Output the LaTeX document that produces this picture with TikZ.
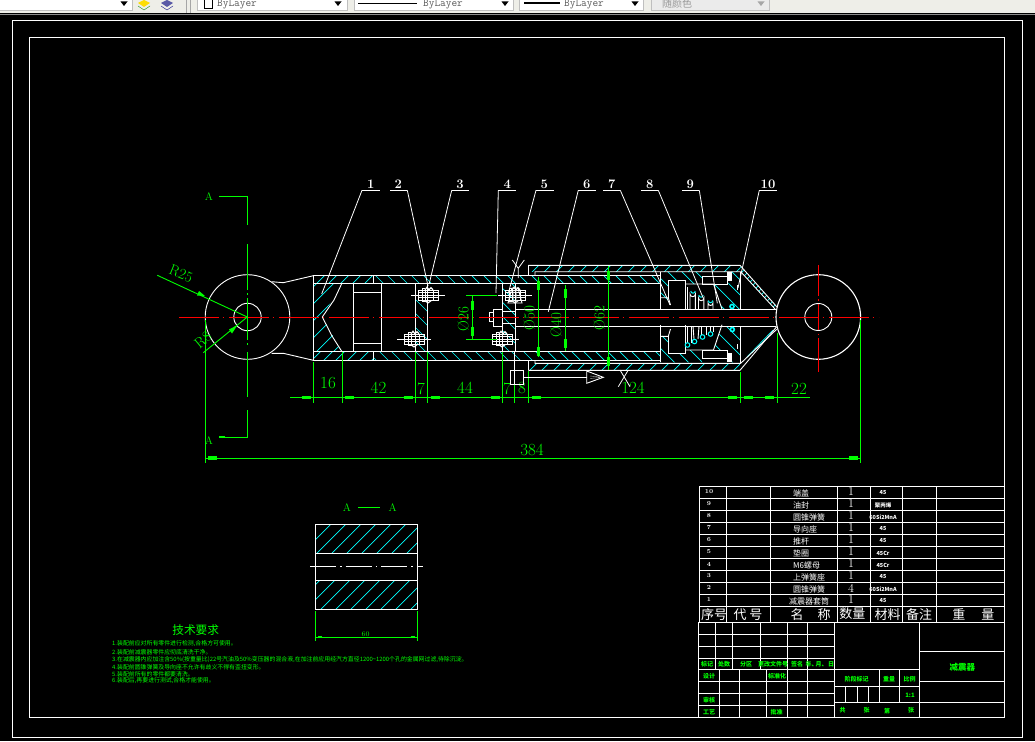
\documentclass[tikz,border=0pt]{standalone}
\usepackage{fontspec}
\newfontfamily\cjk{Noto Sans CJK SC}
\usetikzlibrary{calc}

\definecolor{cadgreen}{RGB}{0,255,0}
\definecolor{cadcyan}{RGB}{0,255,255}
\definecolor{cadred}{RGB}{255,0,0}
\definecolor{barfill}{RGB}{238,238,232}

\newcommand{\hatchup}[2][12]{\begin{scope}\clip #2;
  \pgfmathsetmacro{\hnext}{-200+#1}
  \foreach \h in {-200,\hnext,...,1100}{\draw[hatchline] (\h,800) -- ({\h+800},0);}
  \end{scope}}
\newcommand{\hatchdown}[2][12]{\begin{scope}\clip #2;
  \pgfmathsetmacro{\hnext}{-500+#1}
  \foreach \h in {-500,\hnext,...,800}{\draw[hatchline] (\h,0) -- ({\h+800},800);}
  \end{scope}}

\begin{document}
\begin{tikzpicture}
      [x=1pt,y=-1pt,
        partline/.style={draw=white, line width=0.9pt},
        hatchline/.style={draw=cadcyan, line width=0.7pt},
        centerline/.style={draw=cadred, line width=0.9pt, dash pattern=on 40pt off 3.5pt on 1.5pt off 5pt},
        whitecenter/.style={draw=white, line width=0.9pt, dash pattern=on 26pt off 4pt on 1.5pt off 4pt},
        dimline/.style={draw=cadgreen, line width=0.9pt},
        dimblock/.style={draw=cadgreen, line width=3.4pt},
        leaderline/.style={draw=white, line width=0.8pt},
        partno/.style={text=white, font=\bfseries\fontsize{13}{13}\selectfont, inner sep=0pt},
        dimtext/.style={text=cadgreen, font=\fontsize{17}{17}\selectfont, inner sep=0pt},
        greentext/.style={text=cadgreen, font=\cjk\bfseries\fontsize{6.5}{7}\selectfont, inner sep=0pt},
        tabletext/.style={text=white, font=\cjk\fontsize{8}{8}\selectfont, inner sep=0pt},
        headtext/.style={text=white, font=\cjk\fontsize{13}{13}\selectfont, inner sep=0pt},
        techtext/.style={text=cadgreen, font=\cjk\fontsize{5.9}{6}\selectfont, inner sep=0pt, anchor=west},
        bartext/.style={text=black!65, font=\ttfamily\fontsize{11}{11}\selectfont, inner sep=0pt},
        barbox/.style={fill=white, draw=black!25, line width=0.5pt},
        boltpic/.pic={
          \draw[partline] (-17,0) -- (17,0);
          \draw[partline] (-10,-5) rectangle (10,5);
          \draw[partline] (-6,-6.5) -- (-6,6.5) (-3,-6.5) -- (-3,6.5) (5,-5) -- (5,5) (-6,-6.5) -- (-3,-6.5) (-6,6.5) -- (-3,6.5);
          \draw[partline, line width=1.2pt] (-3,-5.5) -- (-1,-8) -- (1,-5.5) -- (3,-7.5) -- (5,-5.5) (-3,5.5) -- (0,7.5) -- (3,5.5);
          \draw[partline] (-9,-2.5) -- (10,-2.5) (-9,2.5) -- (10,2.5);
        }]
      % page and toolbar
      \useasboundingbox (0,0) rectangle (1035,741);
      \fill[black] (0,0) rectangle (1035,741);
      \fill[barfill] (0,0) rectangle (1035,13.5);
      \draw[black!45, line width=0.8pt] (0,14) -- (1035,14);
      \fill[barbox] (-2,-2) rectangle (132,10.5);
      \fill[barbox] (197,-2) rectangle (347,10.5);
      \fill[barbox] (354,-2) rectangle (513,10.5);
      \fill[barbox] (519,-2) rectangle (643,10.5);
      \fill[black!8, draw=black!25] (651,-2) rectangle (769,10.5);
      \draw[black!35] (186,0) -- (186,13) (190,0) -- (190,13);
      \foreach \ax in {124,338,505,635}{
        \fill[black] (\ax-3.5,1.5) -- (\ax+3.5,1.5) -- (\ax,6) -- cycle;
      }
      \fill[black!35] (761-3.5,1.5) -- (761+3.5,1.5) -- (761,6) -- cycle;
      \fill[yellow!80!orange] (138,3) -- (144,0) -- (150,3) -- (144,7) -- cycle;
      \draw[green!50!black] (138,6) -- (144,10) -- (150,6);
      \fill[blue!30!gray] (161,3) -- (167,0) -- (173,3) -- (167,7) -- cycle;
      \draw[blue!50!black] (161,6) -- (167,10) -- (173,6);
      \draw[black, line width=0.6pt] (204,-2) rectangle (212,8);
      \node[bartext] (layerA) at (237,4) {ByLayer};
      \draw[black, line width=0.8pt] (358,3) -- (417,3);
      \node[bartext] (layerB) at (443,4) {ByLayer};
      \draw[black, line width=2.4pt] (524,3) -- (560,3);
      \node[bartext] (layerC) at (584,4) {ByLayer};
      \node[bartext, font=\cjk\fontsize{10}{10}\selectfont, text=black!40] (colour) at (677,3.5) {随颜色};

      % frames
      \draw[partline] (12.5,20.5) rectangle (1022,737.5);
      \draw[partline] (29,37.5) rectangle (1004.5,717.5);

      % hatching of the tubes
      \hatchup{(313.3,275.3) rectangle (373,283.7)}
      \hatchup{(313.3,351.3) rectangle (373,360.3)}
      \hatchdown{(373,275.3) rectangle (660.3,283.7)}
      \hatchdown{(373,351.3) rectangle (660.3,360.3)}
      \hatchup{(528.3,265.3) rectangle (740,271.7)}
      \hatchup{(528.3,363.3) rectangle (740,370.3)}
      \hatchup[17]{(313.3,283.7) -- (341.7,283.7) -- (322.3,317) -- (341.7,351.3) -- (313.3,351.3) -- cycle}
      \hatchdown[14]{(415.7,298) rectangle (427.3,351.3)}
      \hatchdown[14]{(502.7,283.7) -- (515,283.7) -- (515,351.3) -- (502.7,351.3) -- cycle}
      \hatchdown[14]{(660.3,271.7) -- (702.3,271.7) -- (702.3,284) -- (685,284) -- (685,280.7) -- (668.3,280.7) -- (668.3,305) -- (660.3,296) -- cycle}
      \hatchdown[14]{(660.3,362.3) -- (702.3,362.3) -- (702.3,350) -- (685,350) -- (685,353.3) -- (668.3,353.3) -- (668.3,329) -- (660.3,338) -- cycle}
      \hatchdown[15]{(713.5,284) -- (728.3,284) -- (728.3,271.7) -- (740.7,271.7) -- (740.7,309.3) -- (722,309.3) -- cycle}
      \hatchdown[15]{(713.5,350) -- (728.3,350) -- (728.3,362.3) -- (740.7,362.3) -- (740.7,326.7) -- (722,326.7) -- cycle}
      \hatchup[6]{(740,265.3) -- (776.7,306.7) -- (775,309) -- (740.7,271.7) -- cycle}
      \draw[hatchline] (747,357) -- (773,330);

      % left eye and cylinder
      \draw[partline] (247.5,317) circle (42.3);
      \draw[partline] (247.5,317) circle (13.7);
      \draw[partline] (271.7,281.7) -- (283.3,282.7) -- (313.3,275.7);
      \draw[partline] (271.7,353.3) -- (283.3,353.3) -- (313.3,360.3);
      \draw[partline] (313.3,275.3) rectangle (660.3,283.7);
      \draw[partline] (313.3,351.3) rectangle (660.3,360.3);
      \draw[partline] (313.3,283.7) -- (313.3,351.3);
      \draw[partline] (341.7,283.7) -- (334,300) -- (322.3,317) -- (332,336) -- (341.7,351.3);
      \draw[partline] (353.3,283.7) rectangle (381.3,351.3);
      \draw[partline] (353.3,292.3) -- (381.3,292.3) (353.3,343.3) -- (381.3,343.3);
      \draw[partline] (373,275.3) -- (373,283.7) (373,351.3) -- (373,360.3);
      \draw[partline] (415.7,283.7) -- (415.7,351.3) (427.3,283.7) -- (427.3,351.3);
      \draw[partline] (502.7,283.7) -- (502.7,351.3) (515,283.7) -- (515,351.3);

      % bolts and nuts
      \pic at (428,295.3) {boltpic};
      \pic at (414,339.3) {boltpic};
      \pic at (515,295.3) {boltpic};
      \pic at (502,339.3) {boltpic};
      \draw[partline] (489,312.5) rectangle (493.5,321.5) (493.5,309.3) rectangle (502,326.3) (502,311.7) rectangle (515,323);
      \draw[leaderline] (512.3,260) -- (518.3,268.3) -- (524.3,260) (518.3,268.3) -- (518.3,278);
      \draw[partline] (512,288) -- (508,303) -- (522,303) -- (518,288) -- cycle;
      \draw[black!30!white] (514,290) -- (513,302) (516,290) -- (517,302);

      % outer tube, rod and end cap
      \draw[partline] (528.3,265.3) -- (740,265.3) -- (776.7,306.7);
      \draw[partline] (528.3,370.3) -- (740,370.3) -- (776.7,326.7);
      \draw[partline] (528.3,265.3) -- (528.3,275.3) (528.3,360.3) -- (528.3,370.3);
      \draw[partline] (535,275.3) -- (535,271.7) -- (740.7,271.7) -- (775,309);
      \draw[partline] (535,360.3) -- (535,363.3) -- (740.7,363.3) -- (776.7,329.3);
      \draw[partline] (740.7,271.7) -- (740.7,309.3) (740.7,326.7) -- (740.7,363.3);
      \draw[partline] (515,309.3) -- (776,309.3) (515,326.3) -- (776,326.3);
      \foreach \m/\s in {0/1,634/-1}{
        \begin{scope}[shift={(0,\m)}, yscale=\s]
          \draw[partline] (660.3,271.7) -- (660.3,309.3);
          \draw[partline] (660.3,297.7) -- (668.3,297.7) -- (670.5,305);
          \draw[partline] (668.3,280.7) -- (685,280.7) -- (685,309.3);
          \draw[partline] (668.3,280.7) -- (668.3,297.7);
          \draw[partline] (685,284) -- (713.5,284) -- (722,309.3);
          \draw[partline] (702.3,276) rectangle (727.3,284);
          \fill[white] (727.3,271.7) rectangle (731.7,280.7);
          \draw[partline] (737,285) -- (737,290);
        \end{scope}
      }
      % spring coils
      \draw[partline] (685,287) -- (685,309) (687,287) -- (687,309);
      \draw[partline] (690,309.3) -- (690,294) arc (180:0:2.7) -- (695.4,309.3);
      \draw[partline] (698.5,309.3) -- (698.5,298) arc (180:0:2.7) -- (703.9,309.3);
      \draw[partline] (708,309.3) -- (708,303) arc (180:0:2.5) -- (713,309.3);
      \draw[partline] (687,326.3) -- (687,343) (691,326.3) -- (691,343);
      \draw[partline] (693,326.3) -- (694,339) (699,326.3) -- (698,339);
      \draw[partline] (701,326.3) -- (701,335) (706,326.3) -- (706,335);
      \draw[partline] (710,326.3) -- (710,332) (713,326.3) -- (713,332);
      \foreach \cx/\cy in {687.5/345,694.5/341.5,702.5/337,710.5/334}{
        \draw[hatchline, line width=1pt] (\cx,\cy) circle (2.3);
      }
      \foreach \cx/\cy in {693/291,701/295,710.5/300.5}{
        \draw[hatchline, line width=1pt] (\cx-2.2,\cy) arc (180:0:2.2);
      }
      \draw[hatchline, line width=1.6pt] (732,306.5) circle (2) (732.3,329.5) circle (2);

      % right eye
      \fill[black] (818.3,317) circle (42.3);
      \draw[partline, line width=1.1pt] (818.3,317) circle (42.3);
      \draw[partline] (818.3,317) circle (13.5);

      % center lines
      \draw[centerline] (179,317) -- (879,317);
      \draw[draw=cadred, line width=0.9pt] (818.3,265) -- (818.3,296) (818.3,299) -- (818.3,300.5) (818.3,304) -- (818.3,330) (818.3,333.5) -- (818.3,335) (818.3,338) -- (818.3,371.7);

      % section marks
      \node[dimtext, font=\fontsize{11}{11}\selectfont] (markA1) at (209,197) {A};
      \node[dimtext, font=\fontsize{11}{11}\selectfont] (markA2) at (209,441) {A};
      \draw[dimline] (219,196.3) -- (247.3,196.3) -- (247.3,225);
      \draw[dimline] (247.3,244) -- (247.3,290) (247.3,293) -- (247.3,295) (247.3,298) -- (247.3,340) (247.3,343) -- (247.3,345) (247.3,352) -- (247.3,397) (247.3,410) -- (247.3,437) -- (219,437);
      \draw[dimblock, line width=1.5pt] (219,196.3) -- (225,196.3) (219,437) -- (225,437);

      % radius dimensions
      \draw[dimline] (157.3,275.3) -- (247.3,317);
      \draw[dimline] (203.3,352.7) -- (247.3,317);
      \fill[cadgreen] (205,296) -- (197,295.5) -- (199,291) -- cycle;
      \fill[cadgreen] (237.5,325) -- (232,333.5) -- (229,329.5) -- cycle;
      \node[dimtext, rotate=-22, font=\fontsize{15}{15}\selectfont] (radA) at (181,273.5) {R25};
      \node[dimtext, rotate=40, font=\fontsize{15}{15}\selectfont] (radB) at (203,340) {R8};

      % length dimensions
      \draw[dimline] (290,397.3) -- (810,397.3);
      \foreach \ex/\ey in {313.3/362,342.5/351.5,415.7/352,427.3/352,502.3/352,514.3/352,528.3/371,740.3/372,777.3/333}{
        \draw[dimline] (\ex,\ey) -- (\ex,403);
      }
      \foreach \bx in {306,349.5,408,435,495,536.7,732.7,748.3,769.7}{
        \draw[dimblock] (\bx-4.5,397.3) -- (\bx+4.5,397.3);
      }
      \node[dimtext] (len16) at (328,383.5) {16};
      \node[dimtext] (len42) at (378.5,388) {42};
      \node[dimtext] (len7a) at (421,388.5) {7};
      \node[dimtext] (len44) at (465,387.5) {44};
      \node[dimtext] (len7b) at (507,389) {7};
      \node[dimtext] (len8) at (522,388) {8};
      \node[dimtext] (len124) at (633,387.5) {124};
      \node[dimtext] (len22) at (799,389) {22};

      % overall length
      \draw[dimline] (205.3,320) -- (205.3,463) (860.3,320) -- (860.3,463);
      \draw[dimline] (205.3,458) -- (860.3,458);
      \draw[dimblock] (208,458) -- (217,458) (849,458) -- (858,458);
      \node[dimtext] (len384) at (532,450) {384};

      % diameters
      \draw[dimline] (466,295.3) -- (497,295.3) (466,339.3) -- (497,339.3);
      \foreach \dx/\dt/\db/\ba/\bb/\lab/\lx/\ly/\nm in {472.3/295.3/339.3/305/331/26/463.3/319/a,538.3/276.7/356.7/285/351.7/50/529.3/318/b,565.3/285/351/293.3/343.3/40/556/325/c,608.3/266/370/275/361.7/62/599.3/318/d}{
        \draw[dimline] (\dx,\dt) -- (\dx,\db);
        \draw[dimblock] (\dx,\ba-4.5) -- (\dx,\ba+4.5) (\dx,\bb-4.5) -- (\dx,\bb+4.5);
        \node[dimtext, rotate=90, font=\fontsize{15}{15}\selectfont] (dia\nm) at (\lx,\ly) {Ø\lab};
      }

      % part numbers
      \foreach \n/\lx/\sl/\sr/\ex/\tx/\ty in {1/370.7/362/380/362/321.7/294,2/398.3/390/407.3/407.3/428/286,3/460/451.7/469/451.7/429.3/283.3,4/507.3/498.3/515.7/498.3/496/293,5/544.3/536/554/536/508.3/293.3,6/586.7/578.3/596/578.3/548.3/311.7,7/611.7/603/620.3/620.3/670/305,8/649.7/641/658.3/658.3/703.3/298.3,9/690.3/682/699.3/699.3/717.3/303.3,10/768/759.3/776.7/759.3/738/288}{
        \node[partno] (part\n) at (\lx,184.5) {\n};
        \coordinate (elbow\n) at (\ex,190.3);
        \coordinate (tip\n) at (\tx,\ty);
        \draw[leaderline] (\sl,190.3) -- (\sr,190.3);
        \draw[leaderline] (elbow\n) -- (tip\n);
      }

      % flow arrow and cross mark
      \draw[partline] (510,370.3) rectangle (523.7,384.3);
      \draw[partline] (514.3,351.3) -- (514.3,384.3);
      \draw[partline] (523.7,377.3) -- (586.7,377.3);
      \draw[partline] (586.7,371) -- (603.3,377.3) -- (586.7,383.3) -- cycle;
      \draw[black!30!white] (590,376) -- (600,377) (590,378.5) -- (600,377.5);
      \draw[leaderline] (628.3,370) -- (618.3,386.7) (620,370) -- (630,386.7);

      % section A-A
      \node[dimtext, font=\fontsize{11}{11}\selectfont] (secA1) at (347,507.3) {A};
      \draw[dimline] (358,507.3) -- (380,507.3);
      \node[dimtext, font=\fontsize{11}{11}\selectfont] (secA2) at (392.7,507.3) {A};
      \hatchup[15]{(315.3,524.3) rectangle (417.3,553.3)}
      \hatchup[15]{(315.3,580.3) rectangle (417.3,609.3)}
      \draw[partline] (315.3,524.3) rectangle (417.3,609.3);
      \draw[partline] (315.3,553.3) -- (417.3,553.3) (315.3,580.3) -- (417.3,580.3);
      \draw[whitecenter] (310,566.3) -- (422.7,566.3);
      \draw[dimline] (315.3,611) -- (315.3,640.7) (417.3,611) -- (417.3,640.7);
      \draw[dimline] (315.3,637) -- (417.3,637);
      \draw[dimblock, line width=2.4pt] (318,637) -- (322,637) (410.7,637) -- (414.7,637);
      \node[dimtext, font=\fontsize{7}{7}\selectfont] (secwidth) at (365.7,634) {60};

      % technical notes
      \node[text=cadgreen, font=\cjk\fontsize{11.7}{12}\selectfont, inner sep=0pt] (techhead) at (195.7,630) {技术要求};
      \node[techtext] (tech1) at (112,644) {1.装配前应对所有零件进行检测,合格方可使用。};
      \node[techtext] (tech2) at (112,652.7) {2.装配前减震器零件应彻底清洗干净。};
      \node[techtext] (tech3) at (112,660) {3.在减震器内应加注含50\%(按重量比)22号汽油及50\%变压器的混合液,在加注前应用经汽方直径1200\textasciitilde 1200个孔的金属网过滤,待除沉淀。};
      \node[techtext] (tech4) at (112,667) {4.装配前圆锥弹簧及导向座不允许有歧义不得有歪扭变形。};
      \node[techtext] (tech5) at (112,674) {5.装配前所有的零件都要清洗。};
      \node[techtext] (tech6) at (112,681) {6.装配后,再要进行测试,合格才能使用。};

      % parts list
      \foreach \ty in {486,498,...,606}{
        \draw[partline] (699,\ty) -- (1004.3,\ty);
      }
      \draw[partline] (699,622.3) -- (1004.3,622.3);
      \foreach \tx in {699,726.3,770.7,837.3,870.7,902.7,936.3,1004.3}{
        \draw[partline] (\tx,486) -- (\tx,622.3);
      }
      \foreach \n/\nm/\q/\mt/\nx [count=\r from 0] in {10/端盖/1/45/793,9/油封/1/聚丙烯/793,8/圆锥弹簧/1/60Si2MnA/793,7/导向座/1/45/793,6/推杆/1/45/793,5/垫圈/1/45Cr/793,4/M6螺母/1/45Cr/793,3/上弹簧座/1/45/793,2/圆锥弹簧/4/60Si2MnA/793,1/减震器套筒/1/45/789}{
        \pgfmathsetmacro{\ry}{492+12*\r}
        \node[tabletext, font=\bfseries\fontsize{6}{6}\selectfont] (no\n) at (709,\ry) {\n};
        \node[tabletext, anchor=west] (name\n) at (\nx,\ry+1) {\nm};
        \node[tabletext, font=\fontsize{12}{12}\selectfont] (qty\n) at (851,\ry) {\q};
        \node[tabletext, font=\cjk\bfseries\fontsize{5.5}{6}\selectfont] (mat\n) at (883,\ry+1) {\mt};
      }
      \node[headtext] (hdNo) at (714,614.5) {序号};
      \node[headtext] (hdCode) at (748,614.5) {代 号};
      \node[headtext] (hdName) at (810.7,614.5) {名\hspace{14pt}称};
      \node[headtext] (hdQty) at (852.3,614) {数量};
      \node[headtext] (hdMat) at (887.7,614.5) {材料};
      \node[headtext] (hdNote) at (919,614.5) {备注};
      \node[headtext] (hdWeight) at (973.3,614.5) {重\hspace{16pt}量};

      % title block
      \draw[partline] (698.7,622.3) rectangle (1004.3,717.3);
      \foreach \ty in {634.3,646.3,658.3,669.7,681.3,693.3,705.3}{
        \draw[partline] (698.7,\ty) -- (834.3,\ty);
      }
      \foreach \tx in {715.3,732.3,760.3,787.3,807.3}{
        \draw[partline] (\tx,622.3) -- (\tx,669.7);
      }
      \foreach \tx in {719.3,739.3,766.3,787.3,807.3}{
        \draw[partline] (\tx,669.7) -- (\tx,717.3);
      }
      \draw[partline] (834.3,622.3) -- (834.3,717.3) (919.3,622.3) -- (919.3,717.3);
      \draw[partline] (834.3,669.7) -- (919.3,669.7) (834.3,686.3) -- (919.3,686.3) (834.3,702.7) -- (919.3,702.7);
      \draw[partline] (879.3,669.7) -- (879.3,702.7) (899.3,669.7) -- (899.3,702.7);
      \draw[partline] (845.3,686.3) -- (845.3,702.7) (857.3,686.3) -- (857.3,702.7) (868.3,686.3) -- (868.3,702.7);
      \draw[partline] (919.3,651.3) -- (1004.3,651.3) (919.3,681.3) -- (1004.3,681.3) (919.3,702.7) -- (1004.3,702.7);
      \foreach \gx/\gy/\gt/\gn in {707/664.5/标记/a,724/664.5/处数/b,746/664.5/分区/c,773/664.5/更改文件号/d,797/664.5/签名/e,811.7/664.5/年、/f,821.7/664.5/月、/t,831/664.5/日/u,709/676/设计/g,777/676/标准化/h,709/700/审核/i,709/712/工艺/j,776.7/712/批准/k,856.7/679/阶段标记/l,889/679/重量/m,909.7/679/比例/n,910/695.7/1:1/o,842.7/710.7/共/p,866.7/710.7/张/q,887/710.7/第/r,911/710.7/张/s}{
        \node[greentext, font=\cjk\bfseries\fontsize{6}{6}\selectfont] (title\gn) at (\gx,\gy) {\gt};
      }
      \node[greentext, font=\cjk\bfseries\fontsize{8.5}{9}\selectfont] (titlemain) at (962.3,667.3) {减震器};
    \end{tikzpicture}
\end{document}
